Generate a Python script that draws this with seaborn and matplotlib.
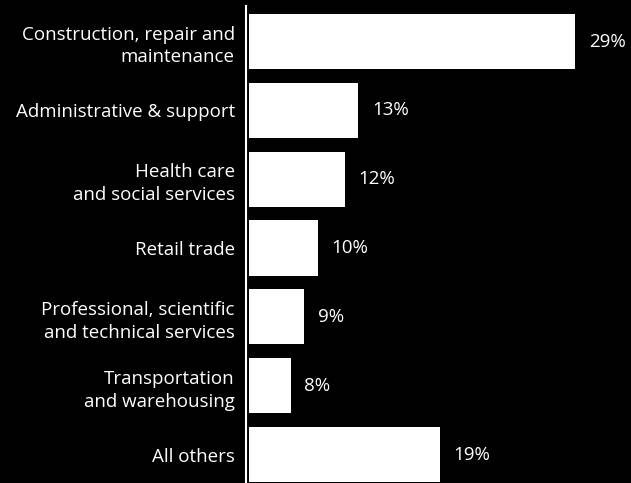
import matplotlib
matplotlib.use("Agg")
import matplotlib.pyplot as plt
import seaborn as sns
import pandas as pd

categories = [
    "Construction, repair and\nmaintenance",
    "Administrative & support",
    "Health care\nand social services",
    "Retail trade",
    "Professional, scientific\nand technical services",
    "Transportation\nand warehousing",
    "All others",
]
shares = [29, 13, 12, 10, 9, 8, 19]

df = pd.DataFrame({"industry": categories, "share": shares})

sns.set_style("dark", {"axes.facecolor": "black", "figure.facecolor": "black"})
plt.rcParams["font.family"] = ["Open Sans", "DejaVu Sans"]

fig = plt.figure(figsize=(6.31, 4.83), dpi=100, facecolor="black")
ax = fig.add_axes([249 / 631, 0, 382 / 631, 1 - 6 / 483])
ax.set_facecolor("black")

sns.barplot(data=df, x="share", y="industry", orient="h", color="white",
            saturation=1, width=0.8, edgecolor="none", ax=ax)

ax.set_xlim(4.94, 33.09)
ax.set_ylim(6.414, -0.516)
ax.set_xlabel("")
ax.set_ylabel("")
ax.set_xticks([])
ax.grid(False)

for side in ("top", "right", "bottom"):
    ax.spines[side].set_visible(False)
ax.spines["left"].set_visible(True)
ax.spines["left"].set_color("white")
ax.spines["left"].set_linewidth(1.5)
ax.spines["left"].set_position(("outward", 2.2))

ax.tick_params(axis="y", length=0, pad=8, colors="white", labelsize=13.5)
for lab in ax.get_yticklabels():
    lab.set_horizontalalignment("right")
    lab.set_multialignment("right")
    lab.set_linespacing(1.35)
    lab.set_y(lab.get_position()[1])

ax.bar_label(ax.containers[0], fmt="%d%%", padding=10, color="white",
             fontsize=13.5)

fig.savefig("out.png", dpi=100, facecolor="black")
